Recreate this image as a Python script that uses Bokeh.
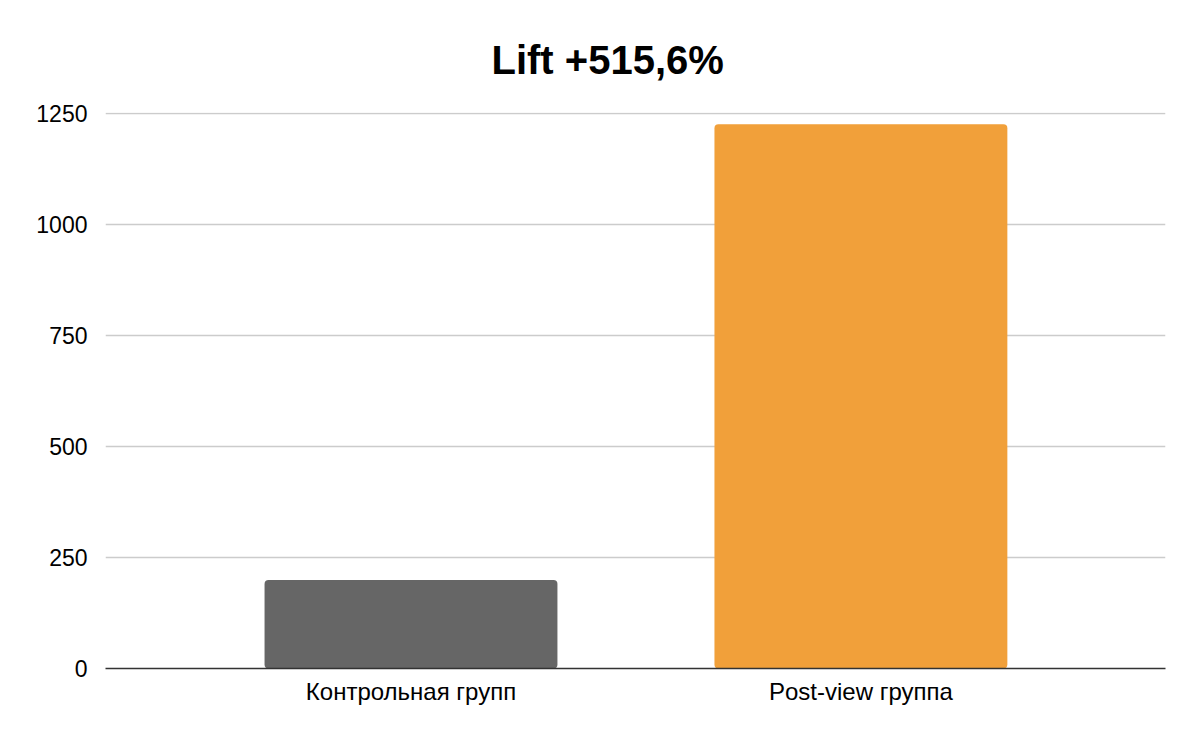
from bokeh.plotting import figure
from bokeh.models import FixedTicker, Range1d
from bokeh.embed import file_html
from bokeh.resources import INLINE

categories = ["Контрольная групп", "Post-view группа"]
values = [199, 1225]
colors = ["#666666", "#f1a03a"]
y_ticks = [0, 250, 500, 750, 1000, 1250]
title_text = "Lift +515,6%"

positions = list(range(len(categories)))

p = figure(width=1188, height=728, output_backend="svg", toolbar_location=None,
           x_range=Range1d(-0.679, 1.677), y_range=Range1d(0, 1251.5),
           min_border_left=105, min_border_right=23, min_border_top=112, min_border_bottom=60)
p.outline_line_color = None
p.background_fill_color = "white"
p.border_fill_color = "white"

p.title.text = title_text
p.title.align = "left"
p.title.offset = 386
p.title.standoff = 61
p.title.text_font = "Liberation Sans"
p.title.text_font_style = "bold"
p.title.text_font_size = "40px"
p.title.text_color = "#000000"

p.vbar(x=positions, top=values, width=0.651, fill_color=colors, line_color=None, border_radius=4)

p.xgrid.grid_line_color = None
p.ygrid.grid_line_color = "#cccccc"
p.ygrid.grid_line_width = 1.3
p.yaxis.ticker = FixedTicker(ticks=y_ticks)
p.yaxis.axis_line_color = None
p.yaxis.major_tick_line_color = None
p.yaxis.minor_tick_line_color = None
p.yaxis.major_label_standoff = 12
p.yaxis.major_label_text_font = "Liberation Sans"
p.yaxis.major_label_text_font_size = "23px"
p.yaxis.major_label_text_color = "#000000"

p.xaxis.ticker = FixedTicker(ticks=positions)
p.xaxis.major_label_overrides = {i: c for i, c in zip(positions, categories)}
p.xaxis.axis_line_color = "#333333"
p.xaxis.axis_line_width = 1.5
p.xaxis.major_tick_line_color = None
p.xaxis.minor_tick_line_color = None
p.xaxis.major_label_standoff = 3
p.xaxis.major_label_text_font = "Liberation Sans"
p.xaxis.major_label_text_font_size = "24px"
p.xaxis.major_label_text_color = "#000000"

open("out.html", "w").write(file_html(p, INLINE))
